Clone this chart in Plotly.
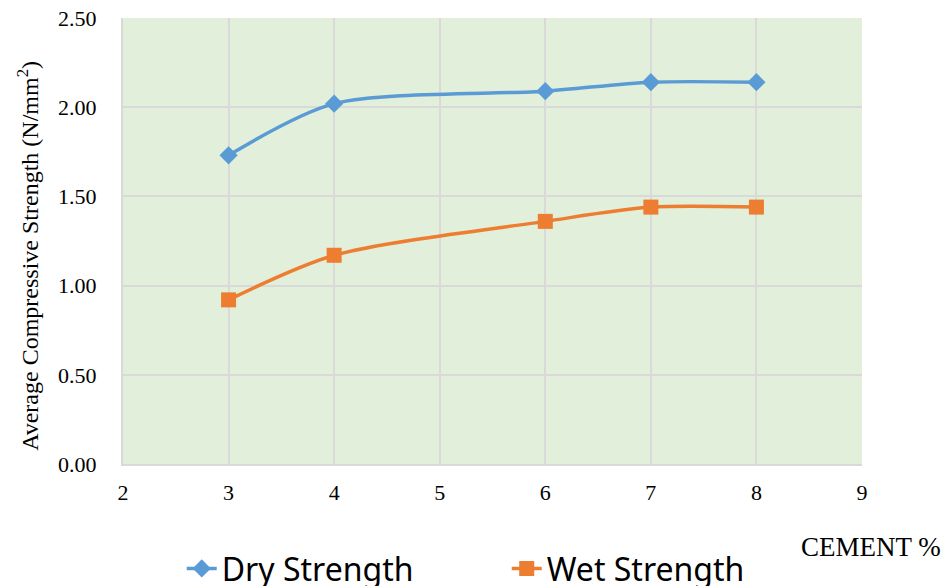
import plotly.graph_objects as go

cement = [3, 4, 6, 7, 8]
dry_strength = [1.73, 2.02, 2.09, 2.14, 2.14]
wet_strength = [0.92, 1.17, 1.36, 1.44, 1.44]
y_ticks = [0, 0.5, 1.0, 1.5, 2.0, 2.5]
x_ticks = [2, 3, 4, 5, 6, 7, 8, 9]

fig = go.Figure()
fig.add_trace(go.Scatter(
    x=cement, y=dry_strength, name="Dry Strength", mode="lines+markers",
    line=dict(color="#5B9BD5", width=3.5, shape="spline", smoothing=0.8),
    marker=dict(symbol="diamond", size=14, color="#5B9BD5")))
fig.add_trace(go.Scatter(
    x=cement, y=wet_strength, name="Wet Strength", mode="lines+markers",
    line=dict(color="#ED7D31", width=3.5, shape="spline", smoothing=0.8),
    marker=dict(symbol="square", size=15, color="#ED7D31")))

serif = "Liberation Serif, Times New Roman, serif"
fig.update_layout(
    width=941, height=578,
    margin=dict(l=115, r=87, t=10, b=122, autoexpand=False),
    paper_bgcolor="white", plot_bgcolor="#E2EFDA",
    font=dict(family=serif, size=22, color="black"),
    xaxis=dict(range=[2, 9], tickvals=x_ticks, showgrid=True, gridcolor="#D9D9D9",
               gridwidth=2, zeroline=False, showline=True, linecolor="#D9D9D9",
               linewidth=2, ticks="", tickfont=dict(family=serif, size=22),
               ticklabelstandoff=8),
    yaxis=dict(range=[0, 2.5], tickvals=y_ticks, tickformat=".2f", showgrid=True,
               gridcolor="#D9D9D9", gridwidth=2, zeroline=False, showline=True,
               linecolor="#D9D9D9", linewidth=2, ticks="",
               tickfont=dict(family=serif, size=22), ticklabelstandoff=20,
               ticklabeloverflow="allow"),
    legend=dict(orientation="h", x=0.53, xanchor="center", xref="container",
                y=0.03, yanchor="middle", yref="container",
                font=dict(family="Noto Sans, sans-serif", size=32),
                entrywidth=280, bgcolor="rgba(0,0,0,0)"),
    annotations=[
        dict(text="CEMENT %", xref="paper", yref="paper", x=1.1096, y=-0.187,
             xanchor="right", yanchor="middle", showarrow=False,
             font=dict(family=serif, size=27)),
        dict(text="Average Compressive Strength (N/mm<sup>2</sup>)", textangle=-90,
             xref="paper", yref="paper", x=-0.129, y=0.466,
             xanchor="center", yanchor="middle", showarrow=False,
             font=dict(family=serif, size=24)),
    ],
)

fig.write_html("out.html")
